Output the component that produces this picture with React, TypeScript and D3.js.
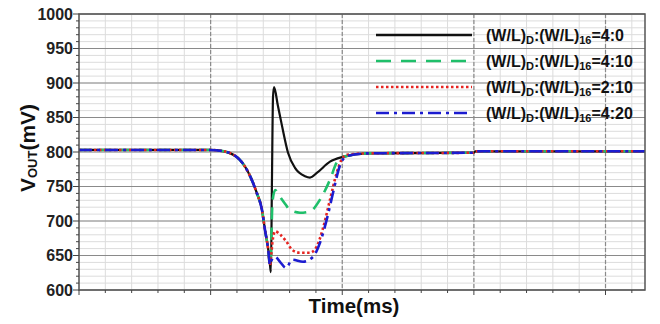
import React from "react";
import * as d3 from "d3";

// ---- data ----
const yTicks = [600, 650, 700, 750, 800, 850, 900, 950, 1000];

// common leading part (all four series coincide)
const sharedT = [0, 0.99, 1.1, 1.22, 1.3, 1.35, 1.39, 1.413, 1.438, 1.451];
const sharedV = [803, 803, 801, 789, 765, 741, 716, 687, 658, 636];

const blackT = [1.458, 1.466, 1.474, 1.482, 1.51, 1.54, 1.588, 1.641, 1.717, 1.755, 1.809, 1.907, 2.006, 2.19, 3.0, 3.01, 4.3];
const blackV = [626, 760, 880, 894, 868, 840, 799, 777, 765, 763, 770, 786, 793, 798, 799, 801, 801];

const greenT = [1.456, 1.47, 1.49, 1.52, 1.565, 1.603, 1.679, 1.755, 1.831, 1.907, 1.958, 2.006, 2.19, 3.0, 3.01, 4.3];
const greenV = [642, 728, 745, 737, 725, 716, 712, 714, 731, 760, 785, 793, 798, 799, 801, 801];

const redT = [1.456, 1.47, 1.49, 1.53, 1.573, 1.62, 1.679, 1.755, 1.806, 1.85, 1.907, 1.958, 1.995, 2.035, 2.19, 3.0, 3.01, 4.3];
const redV = [642, 670, 685, 680, 671, 658, 654, 654, 663, 687, 731, 770, 789, 796, 798, 799, 801, 801];

const blueT = [1.456, 1.49, 1.53, 1.573, 1.62, 1.702, 1.778, 1.83, 1.882, 1.93, 1.98, 2.035, 2.19, 3.0, 3.01, 4.3];
const blueV = [640, 648, 640, 632, 644, 641, 648, 668, 702, 741, 779, 794, 798, 799, 801, 801];

const seriesNames = ["4:0", "4:10", "2:10", "4:20"];
const seriesColors = ["#111111", "#1fbf6a", "#e52521", "#1c1cd0"];
const seriesDash = ["none", "12,8", "2.5,2.5", "13,5,3,5"];

export default function App() {
  const W = 660, H = 324;
  const left = 79, right = 645, top = 14, bottom = 290;
  const x = d3.scaleLinear().domain([0, 4.3]).range([left, right]);
  const y = d3.scaleLinear().domain([600, 1000]).range([bottom, top]);

  const series = [
    { t: blackT, v: blackV },
    { t: greenT, v: greenV },
    { t: redT, v: redV },
    { t: blueT, v: blueV },
  ].map((s) => ({
    pts: sharedT.map((t, i) => [t, sharedV[i]] as [number, number]).concat(
      s.t.map((t, i) => [t, s.v[i]] as [number, number])
    ),
  }));

  const line = d3
    .line<[number, number]>()
    .x((d) => x(d[0]))
    .y((d) => y(d[1]))
    .curve(d3.curveMonotoneX);

  const xMinor = d3.range(0, 4.3001, 0.2).map((v) => +v.toFixed(2));
  const xMajor = [1, 2, 3, 4];
  const yMinor = d3.range(600, 1001, 10);

  const font = "'Liberation Sans', Arial, sans-serif";

  return (
    <svg
      width={W}
      height={H}
      style={{ position: "absolute", left: 0, top: 0, background: "#fff" }}
      fontFamily={font}
    >
      <clipPath id="plot">
        <rect x={left} y={top} width={right - left} height={bottom - top} />
      </clipPath>
      {/* minor grid */}
      {yMinor.map((v) => (
        <line key={"ym" + v} x1={left} x2={right} y1={y(v)} y2={y(v)} stroke="#dcdcdc" strokeWidth={1} />
      ))}
      {xMinor.map((v) => (
        <line key={"xm" + v} x1={x(v)} x2={x(v)} y1={top} y2={bottom} stroke="#dcdcdc" strokeWidth={1} />
      ))}
      {/* major grid */}
      {yTicks.map((v) => (
        <line key={"yM" + v} x1={left} x2={right} y1={y(v)} y2={y(v)} stroke="#8a8a8a" strokeWidth={1.2} />
      ))}
      {xMajor.map((v) => (
        <line key={"xM" + v} x1={x(v)} x2={x(v)} y1={top} y2={bottom} stroke="#8a8a8a" strokeWidth={1.2} strokeDasharray="4,2" />
      ))}

      {/* series */}
      <g clipPath="url(#plot)">
        {series.map((s, i) => (
          <path
            key={i}
            d={line(s.pts) || ""}
            fill="none"
            stroke={seriesColors[i]}
            strokeWidth={i === 0 ? 2.2 : 2.6}
            strokeDasharray={seriesDash[i]}
            strokeLinejoin="round"
          />
        ))}
      </g>

      {/* frame */}
      <rect x={left} y={top} width={right - left} height={bottom - top} fill="none" stroke="#555" strokeWidth={1.5} />

      {/* y ticks */}
      {yMinor.map((v) => (
        <line key={"yt" + v} x1={left - (v % 50 === 0 ? 6 : 3)} x2={left} y1={y(v)} y2={y(v)} stroke="#444" strokeWidth={1} />
      ))}
      {yTicks.map((v) => (
        <text key={"yl" + v} x={left - 6} y={y(v) + 5.5} textAnchor="end" fontSize={16} fontWeight="bold" fill="#222">
          {v}
        </text>
      ))}
      {/* x ticks */}
      {xMinor.map((v) => (
        <line key={"xt" + v} x1={x(v)} x2={x(v)} y1={bottom} y2={bottom + (Math.abs(v - Math.round(v)) < 1e-6 ? 5 : 3)} stroke="#444" strokeWidth={1} />
      ))}

      {/* axis titles */}
      <text x={354} y={313} textAnchor="middle" fontSize={20.5} fontWeight="bold" fill="#111">
        Time(ms)
      </text>
      <text transform={`translate(35,148) rotate(-90)`} textAnchor="middle" fontSize={21} fontWeight="bold" fill="#111">
        V<tspan fontSize={13} dy={2}>OUT</tspan>
        <tspan dy={-2}>(mV)</tspan>
      </text>

      {/* legend */}
      {seriesNames.map((n, i) => {
        const ly = 35 + i * 26;
        return (
          <g key={"lg" + i}>
            <line x1={376} x2={472} y1={ly} y2={ly} stroke={seriesColors[i]} strokeWidth={2.6} strokeDasharray={seriesDash[i] === "12,8" ? "15,10" : seriesDash[i]} />
            <text x={486} y={ly + 6} fontSize={16} fontWeight="bold" fill="#111">
              (W/L)<tspan fontSize={11} dy={3}>D</tspan>
              <tspan dy={-3}>:(W/L)</tspan>
              <tspan fontSize={11} dy={3}>16</tspan>
              <tspan dy={-3}>={n}</tspan>
            </text>
          </g>
        );
      })}
    </svg>
  );
}
